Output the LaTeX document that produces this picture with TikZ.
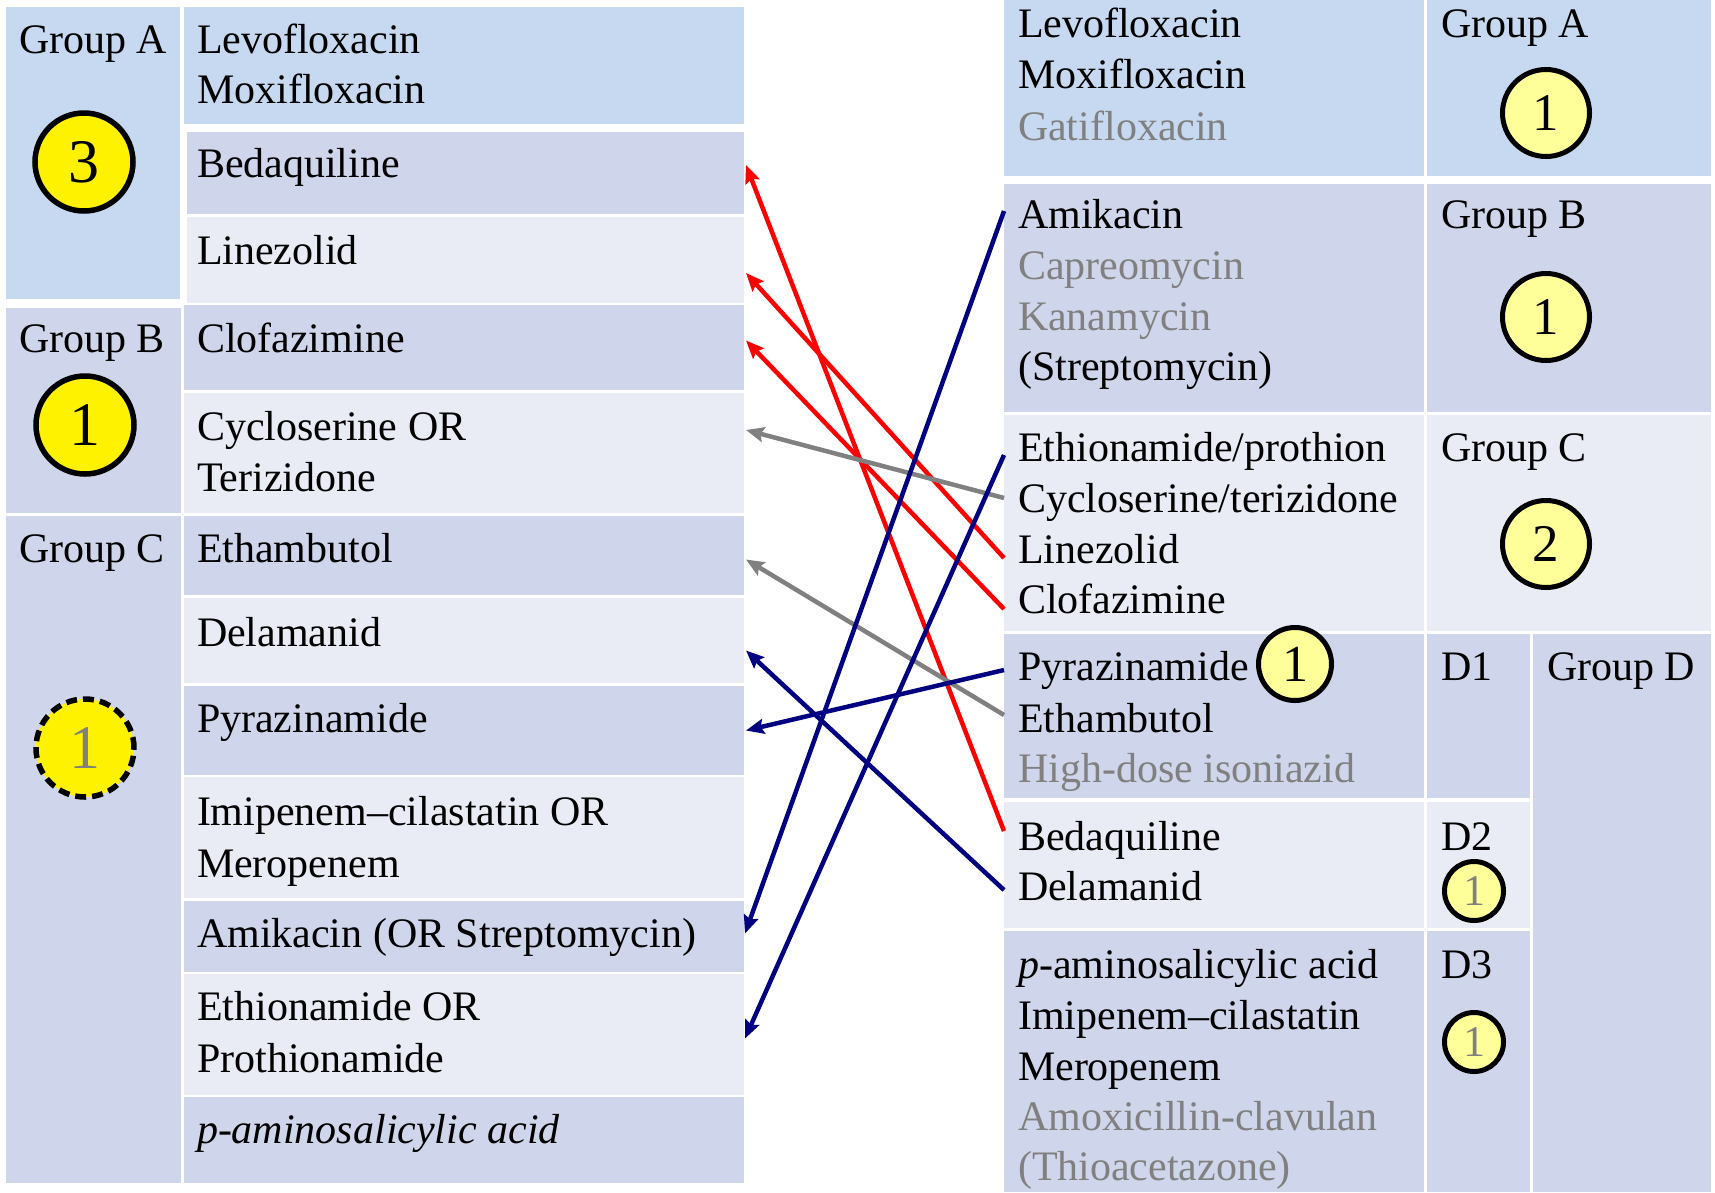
\documentclass[tikz,border=0pt]{standalone}
\usepackage{fontspec}
\setmainfont{Liberation Serif}
\usetikzlibrary{fit,arrows.meta}

\definecolor{hdrblue}{HTML}{C6D9F0}
\definecolor{bandA}{HTML}{CFD5EA}
\definecolor{bandB}{HTML}{E9EBF5}
\definecolor{txtgray}{HTML}{808080}
\definecolor{navyline}{HTML}{000080}
\definecolor{paleyel}{HTML}{FFFF99}

\newcommand\drugfont{\fontsize{42}{51}\selectfont}

\begin{document}
\begin{tikzpicture}[x=1pt,y=-1pt,
  cellbox/.style={inner sep=0pt, outer sep=0pt, draw=none},
  blue cell/.style={cellbox, fill=hdrblue},
  dark cell/.style={cellbox, fill=bandA},
  light cell/.style={cellbox, fill=bandB},
  drugtext/.style={anchor=base west, inner sep=0pt, outer sep=0pt, font=\drugfont},
  greytext/.style={drugtext, text=txtgray},
  count/.style={circle, draw=black, inner sep=0pt},
  bigcount/.style={count, line width=5.5pt, fill=yellow, minimum size=98pt, font=\fontsize{62}{62}\selectfont},
  midcount/.style={count, line width=5pt, fill=paleyel, minimum size=87pt, font=\fontsize{53}{53}\selectfont},
  smallcount/.style={count, line width=5pt, fill=paleyel, minimum size=73pt, font=\fontsize{52}{52}\selectfont},
  tinycount/.style={count, line width=5pt, fill=paleyel, minimum size=59pt, text=txtgray, font=\fontsize{44}{44}\selectfont},
  arrowline/.style={line width=4.5pt, -{Stealth[length=18pt,width=15pt,inset=3pt]}},
  redlink/.style={arrowline, draw=red},
  greylink/.style={arrowline, draw=txtgray},
  navylink/.style={arrowline, draw=navyline}
]
\useasboundingbox (0,0) rectangle (1715,1192);

% ---------- left table: 2018 grouping ----------
\node[blue cell, fit={(6,7) (180,299)}] (lgA) {};
\node[dark cell, fit={(6,308) (181,513)}] (lgB) {};
\node[dark cell, fit={(6,516) (181,1183)}] (lgC) {};

\node[blue cell,  fit={(184,7) (744,124)}]    (lFq)  {};
\node[dark cell,  fit={(187,132) (744,214)}]  (lBdq) {};
\node[light cell, fit={(187,217) (744,303)}]  (lLzd) {};
\node[dark cell,  fit={(184,305) (744,390)}]  (lCfz) {};
\node[light cell, fit={(184,393) (744,513)}]  (lCs)  {};
\node[dark cell,  fit={(184,516) (744,595)}]  (lEmb) {};
\node[light cell, fit={(184,598) (744,683)}]  (lDlm) {};
\node[dark cell,  fit={(184,686) (744,775)}]  (lZ)   {};
\node[light cell, fit={(184,777) (744,898)}]  (lImp) {};
\node[dark cell,  fit={(184,901) (744,972)}]  (lAm)  {};
\node[light cell, fit={(184,974) (744,1095)}] (lEto) {};
\node[dark cell,  fit={(184,1097) (744,1183)}] (lPas) {};

\node[drugtext] (tlgA) at (19,53)  {Group A};
\node[drugtext] (tlgB) at (19,352) {Group B};
\node[drugtext] (tlgC) at (19,562) {Group C};

\node[drugtext] (tlLfx) at (197,53)   {Levofloxacin};
\node[drugtext] (tlMfx) at (197,103)  {Moxifloxacin};
\node[drugtext] (tlBdq) at (197,177)  {Bedaquiline};
\node[drugtext] (tlLzd) at (197,264)  {Linezolid};
\node[drugtext] (tlCfz) at (197,352)  {Clofazimine};
\node[drugtext] (tlCs)  at (197,440)  {Cycloserine OR};
\node[drugtext] (tlTrd) at (197,491)  {Terizidone};
\node[drugtext] (tlEmb) at (197,562)  {Ethambutol};
\node[drugtext] (tlDlm) at (197,646)  {Delamanid};
\node[drugtext] (tlZ)   at (197,732)  {Pyrazinamide};
\node[drugtext] (tlImp) at (197,825)  {Imipenem–cilastatin OR};
\node[drugtext] (tlMpm) at (197,877)  {Meropenem};
\node[drugtext] (tlAm)  at (197,947)  {Amikacin (OR Streptomycin)};
\node[drugtext] (tlEto) at (197,1020) {Ethionamide OR};
\node[drugtext] (tlPto) at (197,1072) {Prothionamide};
\node[drugtext] (tlPas) at (197,1143) {\itshape p-aminosalicylic acid};

\node[bigcount] (clA) at (84,162) {3};
\node[bigcount] (clB) at (85,425) {1};
\node[bigcount, dashed, dash pattern=on 11pt off 6pt, text=txtgray] (clC) at (85,748) {1};

% ---------- right table: 2016 grouping ----------
\node[blue cell,  fit={(1004,0) (1424,176)}]    (rA)   {};
\node[blue cell,  fit={(1427,0) (1711,176)}]    (rgA)  {};
\node[dark cell,  fit={(1004,184) (1424,412)}]  (rB)   {};
\node[dark cell,  fit={(1427,184) (1711,412)}]  (rgB)  {};
\node[light cell, fit={(1004,415) (1424,631)}]  (rC)   {};
\node[light cell, fit={(1427,415) (1711,631)}]  (rgC)  {};
\node[dark cell,  fit={(1004,634) (1424,798)}]  (rD1)  {};
\node[dark cell,  fit={(1427,634) (1530,798)}]  (rgD1) {};
\node[light cell, fit={(1004,802) (1424,928)}]  (rD2)  {};
\node[light cell, fit={(1427,802) (1530,928)}]  (rgD2) {};
\node[dark cell,  fit={(1004,931) (1424,1192)}] (rD3)  {};
\node[dark cell,  fit={(1427,931) (1530,1192)}] (rgD3) {};
\node[dark cell,  fit={(1533,634) (1711,1192)}] (rgD)  {};

\node[drugtext] (trgA)  at (1441,37)  {Group A};
\node[drugtext] (trgB)  at (1441,228) {Group B};
\node[drugtext] (trgC)  at (1441,461) {Group C};
\node[drugtext] (trgD1) at (1441,680) {D1};
\node[drugtext] (trgD2) at (1441,850) {D2};
\node[drugtext] (trgD3) at (1441,978) {D3};
\node[drugtext] (trgD)  at (1547,680) {Group D};

\node[drugtext] (trLfx) at (1018,37)  {Levofloxacin};
\node[drugtext] (trMfx) at (1018,88)  {Moxifloxacin};
\node[greytext] (trGfx) at (1018,140) {Gatifloxacin};
\node[drugtext] (trAm)  at (1018,228) {Amikacin};
\node[greytext] (trCm)  at (1018,279) {Capreomycin};
\node[greytext] (trKm)  at (1018,330) {Kanamycin};
\node[drugtext] (trS)   at (1018,380) {(Streptomycin)};
\node[drugtext] (trEto) at (1018,461) {Ethionamide/prothion};
\node[drugtext] (trCs)  at (1018,512) {Cycloserine/terizidone};
\node[drugtext] (trLzd) at (1018,563) {Linezolid};
\node[drugtext] (trCfz) at (1018,613) {Clofazimine};
\node[drugtext] (trZ)   at (1018,680) {Pyrazinamide};
\node[drugtext] (trEmb) at (1018,732) {Ethambutol};
\node[greytext] (trHh)  at (1018,782) {High-dose isoniazid};
\node[drugtext] (trBdq) at (1018,850) {Bedaquiline};
\node[drugtext] (trDlm) at (1018,900) {Delamanid};
\node[drugtext] (trPas) at (1018,978) {\textit{p}-aminosalicylic acid};
\node[drugtext] (trImp) at (1018,1029) {Imipenem–cilastatin};
\node[drugtext] (trMpm) at (1018,1080) {Meropenem};
\node[greytext] (trAmx) at (1018,1130) {Amoxicillin-clavulan};
\node[greytext] (trThz) at (1018,1180) {(Thioacetazone)};

\node[midcount]   (crA)  at (1546,113) {1};
\node[midcount]   (crB)  at (1546,317) {1};
\node[midcount]   (crC)  at (1546,544) {2};
\node[smallcount] (crZ)  at (1295,664) {1};
\node[tinycount]  (crD2) at (1474,891) {1};
\node[tinycount]  (crD3) at (1474,1042) {1};

% ---------- regrouping arrows ----------
\draw[redlink]  ([yshift=34pt]rD2.west)  -- ([shift={(2pt,8pt)}]lBdq.east);
\draw[redlink]  ([yshift=-35pt]rC.west)  -- ([shift={(2pt,-13pt)}]lLzd.east);
\draw[redlink]  ([yshift=-86pt]rC.west)  -- ([shift={(2pt,7pt)}]lCfz.east);
\draw[greylink] ([yshift=25pt]rC.west)   -- ([shift={(2pt,23pt)}]lCs.east);
\draw[greylink] ([yshift=1pt]rD1.west)   -- ([shift={(2pt,-4pt)}]lEmb.east);
\draw[navylink] ([yshift=46pt]rD1.west)  -- ([shift={(2pt,0pt)}]lZ.east);
\draw[navylink] ([yshift=-25pt]rD2.west) -- ([shift={(2pt,-10pt)}]lDlm.east);
\draw[navylink] ([yshift=87pt]rB.west)   -- ([shift={(1pt,3pt)}]lAm.east);
\draw[navylink] ([yshift=68pt]rC.west)   -- ([shift={(1pt,-4pt)}]lEto.east);
\end{tikzpicture}
\end{document}
